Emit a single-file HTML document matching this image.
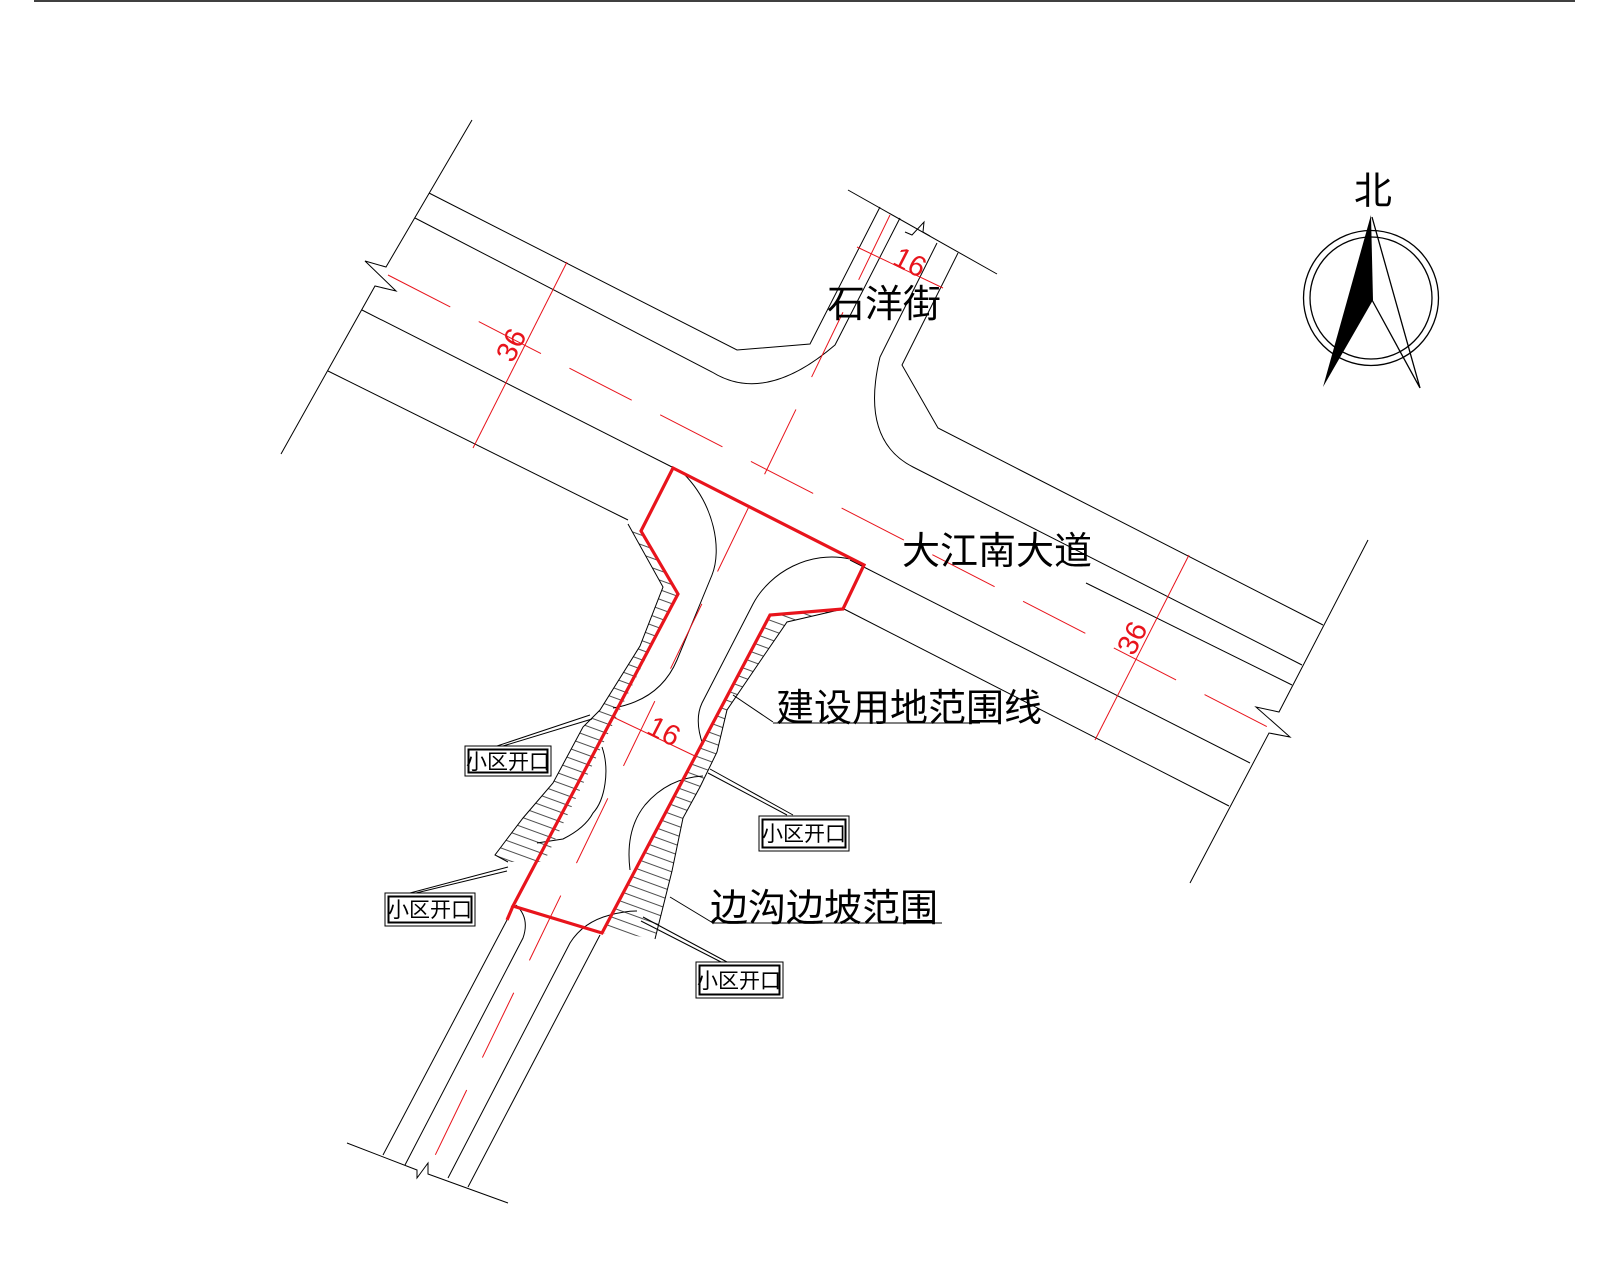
<!DOCTYPE html>
<html><head><meta charset="utf-8"><style>
html,body{margin:0;padding:0;background:#fff;}
svg{display:block;}
text{font-family:"Liberation Sans","Noto Sans CJK SC",sans-serif;}
</style></head><body>
<svg width="1600" height="1280" viewBox="0 0 1600 1280" xmlns="http://www.w3.org/2000/svg">
<defs>
<pattern id="h" width="9" height="9" patternUnits="userSpaceOnUse" patternTransform="rotate(20)">
<line x1="0" y1="4.5" x2="9" y2="4.5" stroke="#222" stroke-width="0.8"/>
</pattern>
</defs>
<rect width="1600" height="1280" fill="#fff"/>
<line x1="34" y1="1" x2="1575" y2="1" stroke="#000" stroke-width="1.5"/>

<polygon points="628,524 641,531 678,594 544,862 508,862 495,855 507,839 523,818 553,783 583,727 600,710 640,646 663,587" fill="url(#h)"/>
<polygon points="770,615 843,609 787,622 763,657 727,710 717,752 700,787 683,818 672,871 655,939 630,935 602,933" fill="url(#h)"/>

<g fill="none" stroke="#000" stroke-width="1">
<path d="M472,120 L386,267 L365,261 L396,291 L375,286 L281,454"/>
<path d="M1368,540 L1279,712 L1256,707 L1290,737 L1269,733 L1190,883"/>
<path d="M848,190 L997,274"/>
<path d="M905,232 L912,235 L924,222 L923,232 L930,236"/>
<path d="M347,1143 L417,1170 L417,1178 L428,1163 L428,1174 L508,1203"/>
<path d="M429,193 L737,350 L810,344 L880,207"/>
<path d="M415,218 L712,372 Q765,405 835,345 L900,218"/>
<path d="M937,243 L880,357 Q860,440 913,467 L1302,665"/>
<path d="M958,253 L902,365 L938,428 L1020,470 L1323,625"/>
<path d="M1086,583 L1292,685"/>
<path d="M362,310 L672,467"/>
<path d="M328,371 L628,520"/>
<path d="M850,560 L1250,763"/>
<path d="M844,609 L1229,806"/>
<path d="M383,1155 L507,920"/>
<path d="M405,1165 L523,938 Q530,918 516,905"/>
<path d="M448,1178 L570,943 Q583,922 610,915 Q625,911 637,911"/>
<path d="M468,1187 L600,935"/>
<path d="M683,473 C715,505 722,550 712,575 L677,660 Q660,700 613,708"/>
<path d="M602,747 C610,770 605,800 593,813 Q585,828 563,839 L537,843"/>
<path d="M850,559 C810,550 770,572 753,604 L702,703 Q694,720 703,745"/>
<path d="M703,776 Q668,778 645,805 Q625,830 630,870"/>
<polyline points="628,524 663,587 640,646 600,710 583,727 553,783 523,818 507,839 495,855 508,862"/>
<polyline points="843,609 787,622 763,657 727,710 717,752 700,787 683,818 672,871 655,939"/>
<path d="M497,746 L590,715 M503,746 L592,719"/>
<path d="M793,815 L710,769 M787,815 L708,773"/>
<path d="M410,893 L508,867 M416,893 L507,871"/>
<path d="M727,962 L643,917 M721,962 L641,921"/>
<path d="M773,722 L733,695 M773,723 L980,723"/>
<path d="M713,923 L670,897 M713,923 L942,923"/>
</g>

<g stroke="#e8141c" stroke-width="1" fill="none">
<line x1="388" y1="275" x2="1295" y2="741" stroke-dasharray="70 32"/>
<line x1="890" y1="215" x2="428" y2="1170" stroke-dasharray="72 36"/>
<line x1="567" y1="262" x2="473" y2="448"/>
<line x1="1189" y1="555" x2="1095" y2="740"/>
<line x1="857" y1="247" x2="943" y2="288"/>
<line x1="613" y1="717" x2="697" y2="757"/>
</g>

<path d="M673,468 L864,565 L843,609 L770,615 L602,933 L513,906 L678,594 L641,531 Z" fill="none" stroke="#e8141c" stroke-width="3.2" stroke-linejoin="miter"/>
<line x1="513" y1="906" x2="507" y2="920" stroke="#e8141c" stroke-width="3.2"/>

<g fill="#e8141c" font-size="29" text-anchor="middle">
<text x="0" y="0" transform="translate(511,345) rotate(-63)" dy="10">36</text>
<text x="0" y="0" transform="translate(1132,638) rotate(-63)" dy="10">36</text>
<text x="0" y="0" transform="translate(910,262) rotate(27)" dy="10">16</text>
<text x="0" y="0" transform="translate(664,731) rotate(27)" dy="10">16</text>
</g>

<g fill="#000" font-size="38">
<text x="827" y="317">石洋街</text>
<text x="902" y="564">大江南大道</text>
<text x="776" y="721">建设用地范围线</text>
<text x="710" y="921">边沟边坡范围</text>
</g>

<g fill="none" stroke="#000">
<rect x="465" y="746" width="86" height="30" stroke-width="1"/>
<rect x="468.5" y="749.5" width="79" height="23" stroke-width="2"/>
<rect x="759" y="816" width="90" height="35" stroke-width="1"/>
<rect x="762.5" y="819.5" width="83" height="28" stroke-width="2"/>
<rect x="385" y="893" width="90" height="33" stroke-width="1"/>
<rect x="388.5" y="896.5" width="83" height="26" stroke-width="2"/>
<rect x="696" y="962" width="87" height="36" stroke-width="1"/>
<rect x="699.5" y="965.5" width="80" height="29" stroke-width="2"/>
</g>
<g fill="#000" font-size="21" text-anchor="middle">
<text x="508" y="769">小区开口</text>
<text x="804" y="841">小区开口</text>
<text x="430" y="917">小区开口</text>
<text x="739" y="988">小区开口</text>
</g>

<g stroke="#000" fill="none" stroke-width="1.3">
<circle cx="1371" cy="298" r="67.5"/>
<circle cx="1371" cy="298" r="61"/>
<path d="M1372,217 L1420,388 L1372,300"/>
</g>
<polygon points="1371,215 1373,300 1323,387" fill="#000"/>
<text x="1373" y="204" font-size="38" text-anchor="middle" fill="#000">北</text>
</svg>
</body></html>
